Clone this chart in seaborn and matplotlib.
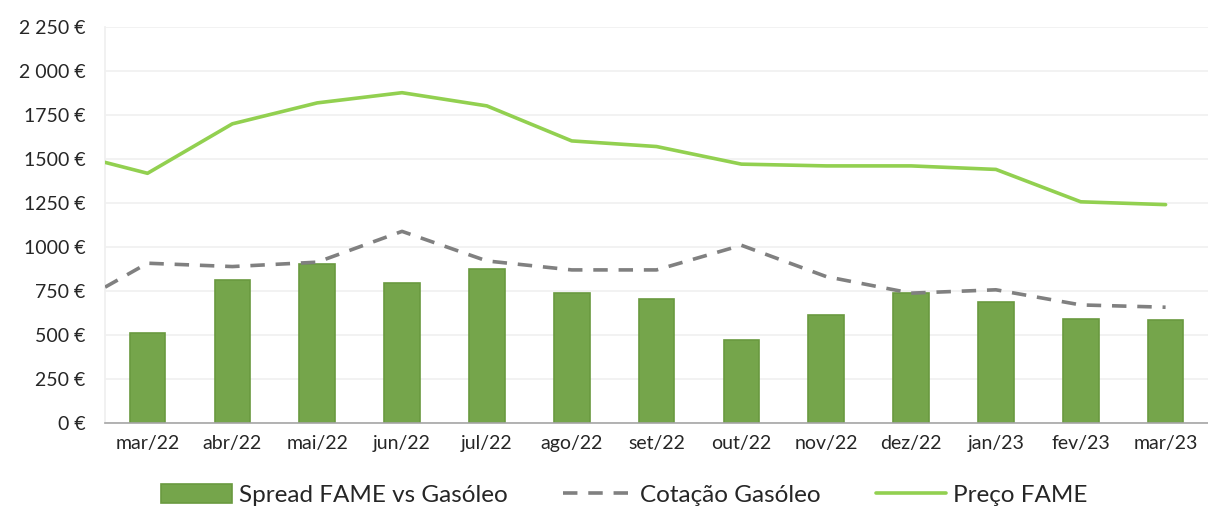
import seaborn as sns
import matplotlib.pyplot as plt
import pandas as pd
import numpy as np

# Data
months = ["mar/22", "abr/22", "mai/22", "jun/22", "jul/22", "ago/22", "set/22",
          "out/22", "nov/22", "dez/22", "jan/23", "fev/23", "mar/23"]
spread = [513, 812, 905, 793, 873, 735, 705, 470, 610, 735, 687, 589, 585]
# lines start with one value sitting at the left edge of the axis
gasoleo = [771, 907, 888, 913, 1088, 920, 869, 869, 1009, 831, 737, 756, 670, 657]
fame = [1480, 1418, 1699, 1818, 1876, 1801, 1602, 1570, 1470, 1460, 1460, 1440, 1256, 1240]
yticks = [0, 250, 500, 750, 1000, 1250, 1500, 1750, 2000, 2250]
ytick_labels = ["0 €", "250 €", "500 €", "750 €", "1000 €", "1250 €", "1500 €",
                "1750 €", "2 000 €", "2 250 €"]

sns.set_theme(style="white")
plt.rcParams['font.family'] = ['Lato', 'DejaVu Sans']

bars = pd.DataFrame({"mes": months, "valor": spread})
line_x = np.r_[-0.5, np.arange(len(months))]
lines = pd.DataFrame({"x": line_x, "gasoleo": gasoleo, "fame": fame})

fig = plt.figure(figsize=(12.08, 5.07), dpi=100)
ax = fig.add_axes([0.087, 0.166, 0.913, 0.781])

sns.barplot(data=bars, x="mes", y="valor", color="#75A54B", saturation=1,
            width=0.42, edgecolor="#6A9A3F", linewidth=1.2,
            label="Spread FAME vs Gasóleo", ax=ax, zorder=2)
sns.lineplot(data=lines, x="x", y="gasoleo", color="#808080", linewidth=2.6,
             dashes=False, linestyle=(0, (4, 3)), label="Cotação Gasóleo", ax=ax, zorder=3)
sns.lineplot(data=lines, x="x", y="fame", color="#92D050", linewidth=2.6,
             label="Preço FAME", ax=ax, zorder=3)

ax.set_xlim(-0.5, 12.4)
ax.set_ylim(0, 2250)
ax.set_yticks(yticks)
ax.set_yticklabels(ytick_labels)
ax.set_xticks(range(len(months)))
ax.set_xticklabels(months)
ax.set_xticks(np.arange(-0.5, len(months), 1.0), minor=True)
ax.tick_params(axis="x", which="major", length=0, pad=9, labelsize=14, colors="#262626")
ax.tick_params(axis="x", which="minor", length=6, width=1, color="#A6A6A6", direction="out")
ax.tick_params(axis="y", length=0, pad=14, labelsize=14, colors="#262626")
ax.set_xlabel("")
ax.set_ylabel("")
ax.yaxis.grid(True, color="#F0F0F0", linewidth=1.2)
ax.set_axisbelow(True)

for s in ["top", "right"]:
    ax.spines[s].set_visible(False)
ax.spines["left"].set_color("#F0F0F0")
ax.spines["bottom"].set_color("#A6A6A6")
ax.spines["bottom"].set_linewidth(1.2)

handles, labels = ax.get_legend_handles_labels()
order = [labels.index(l) for l in ["Spread FAME vs Gasóleo", "Cotação Gasóleo", "Preço FAME"]]
ax.legend([handles[i] for i in order], [labels[i] for i in order],
          loc="center", bbox_to_anchor=(0.471, -0.183), ncol=3, frameon=False,
          fontsize=17.5, handlelength=2.9, columnspacing=2.25, handletextpad=0.3,
          handleheight=0.8, labelcolor="#262626")

fig.savefig("out.png", dpi=100)
